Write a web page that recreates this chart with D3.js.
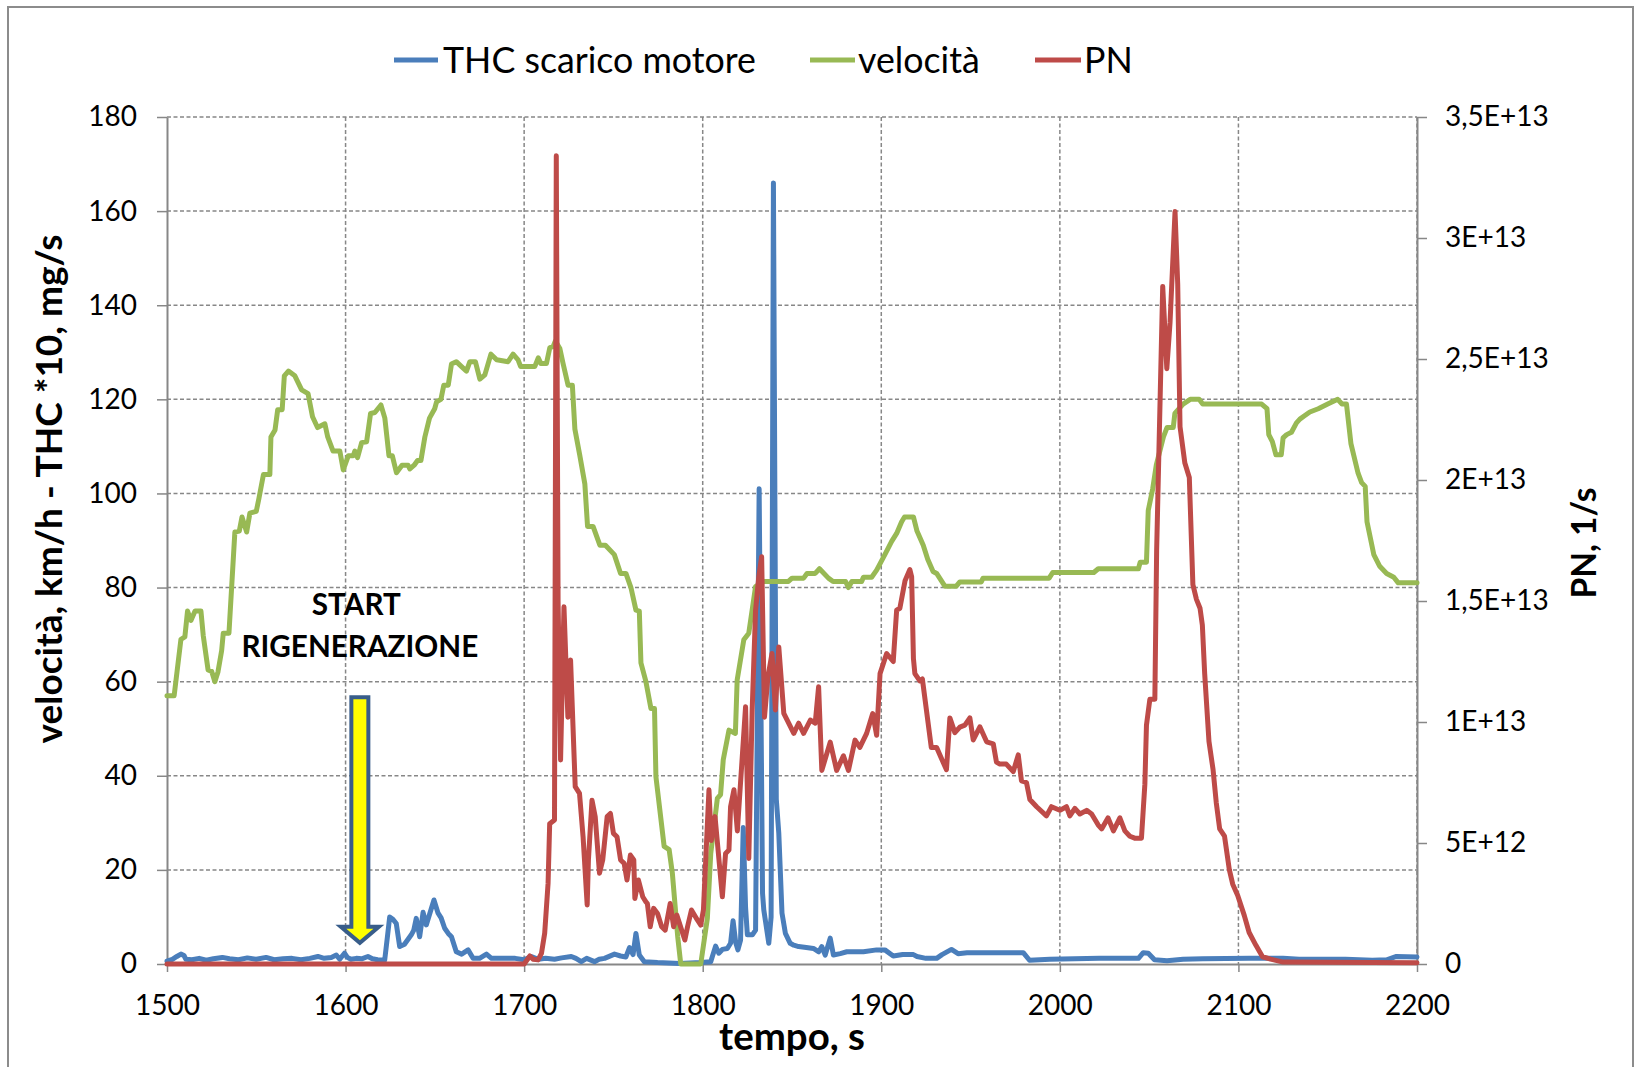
<!DOCTYPE html>
<html>
<head>
<meta charset="utf-8">
<script src="https://cdn.jsdelivr.net/npm/d3@7"></script>
<style>
  html, body { margin: 0; padding: 0; background: #fff; }
  svg { display: block; }
  text { font-family: Lato, "Open Sans", "DejaVu Sans", sans-serif; fill: #000; }
</style>
</head>
<body>
<svg id="chart" width="1635" height="1067"></svg>
<script>
// ---------------- DATA ----------------
const seriesNames = ["THC scarico motore", "velocità", "PN"];
const xTicks = [1500, 1600, 1700, 1800, 1900, 2000, 2100, 2200];
const leftTicks = [0, 20, 40, 60, 80, 100, 120, 140, 160, 180];
const pnTicks = [0, 0.5, 1, 1.5, 2, 2.5, 3, 3.5];            // x 1E+13
const pnTickLabels = ["0", "5E+12", "1E+13", "1,5E+13", "2E+13", "2,5E+13", "3E+13", "3,5E+13"];
const xTitle = "tempo, s";
const yLeftTitle = "velocità, km/h - THC *10, mg/s";
const yRightTitle = "PN, 1/s";
const annotationLines = ["START", "RIGENERAZIONE"];
const annotationTime = 1608;   // s, where the arrow points
const annotationTipValue = 4.5; // left-axis units
const annotationTopValue = 56.7;

// THC scarico motore [tempo s, value]
const thc = [[1500,0.6],[1503,1],[1505.5,1.6],[1507.8,2.1],[1509.5,1.8],[1510.6,1],[1514,0.9],[1518,1.2],[1522,0.8],[1526,1.1],[1531,1.4],[1535,1.1],[1540,0.9],[1545,1.3],[1550,1],[1555.5,1.4],[1560,0.9],[1565,1.1],[1570,1.2],[1575,0.9],[1580,1.2],[1584.5,1.6],[1588,1.2],[1592,1.4],[1594.8,1.9],[1596.7,1],[1599.4,2.3],[1601,1.4],[1603,1],[1606,1.2],[1609,1.1],[1612.5,1.6],[1615,1.1],[1618,0.9],[1621.9,0.8],[1623.5,6],[1624.7,10],[1626.5,9.5],[1628.4,8.6],[1630.3,3.7],[1633,4.2],[1636.8,6.2],[1638.2,7.2],[1639.6,9.7],[1641.5,5.8],[1643.4,11],[1645.2,8.3],[1647,10.5],[1649.5,13.6],[1651.8,10.8],[1653.5,9.8],[1655.5,7.6],[1657.5,6.5],[1659.3,5.8],[1662,2.6],[1665,2.1],[1668.6,3],[1671.4,1.2],[1675,1.2],[1678.9,2.1],[1681.7,1.2],[1687,1.2],[1695,1.2],[1700,0.9],[1704,1.6],[1708,1],[1712,1.2],[1717,1],[1721,1.3],[1726.4,1.6],[1729,1.2],[1732,0.5],[1735,1.2],[1739.4,0.5],[1742,1],[1745,1.2],[1750.6,2.1],[1754,1.7],[1757,1.5],[1759,3.5],[1761,2],[1762.6,6.5],[1764.5,1.9],[1767.3,0.5],[1774.7,0.3],[1787,0.1],[1798.9,0.3],[1804.5,0.5],[1807.2,3.8],[1809,2.3],[1811,3.1],[1813.8,3.3],[1815.6,4.4],[1817,9.2],[1818.5,4.5],[1819.7,3],[1821.2,5.1],[1822.7,29],[1824,12],[1825,6.2],[1827.8,6.2],[1829.6,7.2],[1831.6,101],[1833.5,15],[1834.2,11.5],[1837,4.4],[1838.3,10],[1839.6,166],[1841.2,35],[1842.6,27.8],[1844.4,10.8],[1846.3,6.5],[1849,4.4],[1851,4],[1853.7,3.7],[1858,3.5],[1862,3.3],[1865,2.6],[1866.7,3.7],[1868.6,1.9],[1871.4,5.5],[1873.2,1.9],[1877,2.2],[1880.7,2.6],[1890,2.6],[1897.4,3],[1902,3],[1906.7,1.7],[1912,2],[1918,2],[1920,1.6],[1925,1.2],[1931,1.2],[1934,2],[1939.3,3.1],[1943,2.2],[1948,2.4],[1979.5,2.4],[1983,0.8],[1994.4,1],[2022,1.2],[2044,1.2],[2046.7,2.4],[2049.5,2.3],[2053,0.9],[2060,0.7],[2069,1],[2080,1.1],[2106,1.2],[2125,1.2],[2134,1],[2160,1],[2175,0.8],[2183,0.9],[2188.5,1.6],[2200,1.5]];

// velocità [tempo s, km/h]
const velocita = [[1500,57],[1504,57],[1507.8,69],[1510,69.5],[1511.5,75],[1513.4,73],[1515.7,75],[1519,75],[1520.3,69.8],[1523,62.5],[1525,62.2],[1526.8,60],[1528.5,62],[1530.6,66.6],[1531.5,70.3],[1534.7,70.3],[1538,91.8],[1540.5,92],[1542,95],[1544.6,91.8],[1546.4,95.8],[1550,96.2],[1551.5,99],[1554,104],[1557.6,104],[1558.2,112],[1560.5,113.5],[1562,117.8],[1564.5,117.8],[1565.7,125],[1568,126],[1571.6,125],[1575.4,122],[1579,121.2],[1581.5,116.3],[1584.3,114],[1588.4,114.8],[1590,112],[1593,109],[1596.8,109],[1598.7,105],[1601.5,108],[1604.3,108],[1605.2,109],[1606.7,107.6],[1609,110.8],[1611.8,111],[1614,117],[1616.4,117.2],[1619.8,118.8],[1622,116],[1624.3,108],[1626.2,108],[1628.5,104.4],[1631.6,106],[1635,106],[1636,105.2],[1638.4,106],[1640.3,107],[1642.2,107],[1644.4,112],[1647,116],[1649.9,118],[1651,119.5],[1653.4,120],[1655,123],[1657.5,123],[1659.3,127.5],[1662,128],[1664.8,127],[1667.7,126],[1669.6,128],[1672.7,128],[1675.2,124.3],[1678,125.2],[1681.4,129.6],[1684.6,128.4],[1691,128],[1693.8,129.6],[1696.6,128.4],[1698,127],[1706,127],[1707.9,128.8],[1709.4,127.6],[1712.5,127.6],[1714.4,131],[1716.2,131.2],[1717.5,132.4],[1720,130.8],[1721.8,127.6],[1724.6,123],[1727,123],[1728.4,113.7],[1731.2,108],[1734,102],[1735.5,93],[1738.6,93],[1742.4,89],[1745.5,89],[1750.5,87],[1754,83],[1757,83],[1759.8,80],[1762.6,75.2],[1764.5,75],[1765.4,64],[1768.2,60],[1771,54.3],[1773,54.3],[1773.8,39.8],[1778.4,25],[1781.2,24.3],[1783,19.3],[1786,5.8],[1787.7,0],[1798.9,0],[1802.6,9.7],[1804.5,23.5],[1808.2,35.2],[1810,36],[1811.5,43.4],[1814.7,49.7],[1818.3,49],[1819.3,60.4],[1823,68.9],[1825.8,70.3],[1829.6,80.2],[1834,81.3],[1848,81.3],[1850,82],[1856.5,82],[1858.4,83],[1863,83],[1865.4,84],[1870.4,82],[1873,81.3],[1880,81.3],[1881.6,80],[1883.5,81.3],[1889,81.3],[1890,82.2],[1894.6,82.2],[1897.4,83.7],[1902,87],[1905.8,89.8],[1908.6,91.5],[1911.4,94],[1913,95],[1918,95],[1920,92],[1923.5,89],[1926,86],[1929,83.4],[1931,83],[1935.6,80.3],[1942,80.3],[1944,81.2],[1956,81.2],[1957,82],[1994,82],[1996,83.2],[2019,83.2],[2021.5,84],[2044,84],[2045,85.4],[2048.5,85.4],[2049.5,96.4],[2052,101],[2054,106],[2058,112],[2060,114],[2063.5,114],[2064.4,117],[2069,119],[2073,120],[2078,120],[2080,119],[2113,119],[2116,118],[2117,112.5],[2119,111],[2121,108.2],[2124,108.2],[2125,111.8],[2127,112.5],[2129.7,113],[2132.5,115],[2134.4,115.8],[2137,116.5],[2140,117.3],[2144.7,118],[2150,119],[2155.6,120],[2158,119],[2160.5,119],[2163,110.6],[2167,104.3],[2169,102.3],[2171,101.5],[2172,94],[2175.8,87],[2179,84.6],[2183,83],[2187,82.2],[2189.5,81],[2200,81]];

// PN [tempo s, 1/s in units of 1E+13]
const pn = [[1500,0],[1700,0],[1703.2,0.033],[1705,0.02],[1707.8,0.017],[1709.7,0.044],[1711.5,0.127],[1713.4,0.333],[1714.3,0.58],[1717,0.595],[1718,3.34],[1719,1.5],[1720.4,0.843],[1722.3,1.476],[1724.5,1.02],[1726,1.256],[1728.6,0.733],[1731,0.705],[1733,0.526],[1735.3,0.244],[1736,0.43],[1738,0.677],[1739.8,0.609],[1742.2,0.375],[1744,0.43],[1746.5,0.609],[1748.3,0.622],[1750,0.54],[1752,0.526],[1754,0.43],[1756,0.416],[1757.6,0.347],[1759.5,0.45],[1761.4,0.43],[1762,0.271],[1764,0.347],[1766.4,0.278],[1768.2,0.257],[1769,0.25],[1770.6,0.154],[1772.5,0.23],[1774.7,0.209],[1777,0.154],[1779,0.14],[1781.8,0.25],[1783.7,0.154],[1785.5,0.202],[1790,0.099],[1791.5,0.154],[1793.7,0.223],[1797,0.182],[1798.9,0.161],[1800.4,0.223],[1803.5,0.72],[1804.8,0.51],[1806.9,0.609],[1811,0.278],[1812.8,0.457],[1814.7,0.471],[1815.6,0.65],[1817.5,0.72],[1819.4,0.55],[1824,1.063],[1825.8,0.436],[1827.7,1.05],[1829.6,1.462],[1831.4,1.6],[1833,1.683],[1834.6,1.02],[1836.5,1.185],[1838.8,1.283],[1840.7,1.05],[1842.6,1.31],[1845.4,1.036],[1847.3,1.008],[1851,0.953],[1853.7,0.995],[1856.5,0.953],[1860.3,1.008],[1863,0.995],[1864.9,1.146],[1866.7,0.8],[1871.4,0.917],[1875,0.8],[1878.8,0.86],[1881.6,0.8],[1885.3,0.925],[1888,0.895],[1891.8,0.953],[1895.2,1.035],[1897.4,0.945],[1899.3,1.2],[1903,1.283],[1906.7,1.25],[1908.6,1.462],[1910.4,1.47],[1913.3,1.584],[1916,1.63],[1917,1.6],[1918,1.262],[1918.8,1.2],[1921.6,1.17],[1923,1.178],[1925.3,1.048],[1928,0.895],[1931,0.895],[1933.7,0.849],[1936.5,0.803],[1938.4,1.017],[1941.2,0.956],[1944,0.979],[1946.8,0.987],[1949.6,1.017],[1951.5,0.926],[1955.2,0.98],[1959,0.918],[1962.7,0.91],[1964.5,0.834],[1966.4,0.826],[1970,0.826],[1973.9,0.795],[1976.7,0.864],[1978.5,0.757],[1981.3,0.75],[1983.2,0.68],[1987,0.65],[1992.5,0.612],[1995.3,0.65],[2000,0.635],[2003.7,0.65],[2005.6,0.612],[2008.4,0.643],[2011.2,0.62],[2015,0.635],[2017.8,0.62],[2021.5,0.574],[2023.4,0.558],[2027,0.604],[2030,0.55],[2033.6,0.604],[2036.4,0.55],[2039.2,0.528],[2041.9,0.52],[2045.7,0.52],[2047.6,0.742],[2048.5,0.987],[2050.4,1.094],[2053.2,1.094],[2054.2,1.71],[2057.6,2.8],[2059.9,2.46],[2061.7,2.65],[2064.5,3.109],[2066,2.81],[2067.3,2.22],[2070,2.07],[2072.5,2.01],[2074.5,1.568],[2076.5,1.507],[2078.5,1.47],[2079.8,1.4],[2081.1,1.2],[2083.5,0.92],[2085.8,0.803],[2087.6,0.666],[2089.5,0.558],[2092.2,0.528],[2094.9,0.39],[2096.8,0.33],[2099.6,0.283],[2103.3,0.2],[2106,0.13],[2109.8,0.077],[2113.5,0.03],[2118,0.02],[2125,0.008],[2200,0.005]];

// ---------------- LAYOUT / STYLE ----------------
const W = 1635, H = 1067;
const plot = { left: 167, right: 1417, top: 117, bottom: 964 };
const colors = { thc: "#4A7EBB", vel: "#98B954", pn: "#BE4B48" };
const gridColor = "#878787";
const axisColor = "#878787";

const svg = d3.select("#chart");
svg.append("rect").attr("x", 0).attr("y", 0).attr("width", W).attr("height", H).attr("fill", "#fff");
svg.append("rect").attr("x", 8).attr("y", 7).attr("width", 1625).attr("height", 1075)
  .attr("fill", "none").attr("stroke", "#8c8c8c").attr("stroke-width", 2);

const x = d3.scaleLinear().domain([xTicks[0], xTicks[xTicks.length - 1]]).range([plot.left, plot.right]);
const yL = d3.scaleLinear().domain([0, 180]).range([plot.bottom, plot.top]);
const yR = d3.scaleLinear().domain([0, 3.5]).range([plot.bottom, plot.top]);

function fitFont(sel, target) {
  const w = sel.node().getComputedTextLength();
  const fs = parseFloat(sel.attr("font-size"));
  const nf = fs * target / w;
  sel.attr("font-size", nf);
  return nf;
}

// tick font size from a probe
const probe = svg.append("text").attr("font-size", 30).text("1500");
const tickFS = fitFont(probe, 65);
probe.remove();

// gridlines
const grid = svg.append("g");
grid.selectAll("line.h").data(leftTicks.filter(d => d > 0)).join("line")
  .attr("x1", plot.left).attr("x2", plot.right)
  .attr("y1", d => yL(d)).attr("y2", d => yL(d))
  .attr("stroke", gridColor).attr("stroke-width", 1.5).attr("stroke-dasharray", "4,2.5");
grid.selectAll("line.v").data(xTicks.filter(d => d > xTicks[0])).join("line")
  .attr("x1", d => x(d)).attr("x2", d => x(d))
  .attr("y1", plot.top).attr("y2", plot.bottom)
  .attr("stroke", gridColor).attr("stroke-width", 1.5).attr("stroke-dasharray", "4,2.5");

function styleAxis(g) {
  g.selectAll("path.domain").attr("stroke", axisColor).attr("stroke-width", 2);
  g.selectAll(".tick line").attr("stroke", axisColor).attr("stroke-width", 1.5);
  g.selectAll(".tick text").attr("font-family", "Lato, 'Open Sans', sans-serif")
    .attr("font-size", tickFS).attr("fill", "#000");
}

const gx = svg.append("g").attr("transform", `translate(0,${plot.bottom})`)
  .call(d3.axisBottom(x).tickValues(xTicks).tickFormat(d3.format("d")).tickSize(8).tickSizeOuter(0).tickPadding(23));
styleAxis(gx);

const gyl = svg.append("g").attr("transform", `translate(${plot.left},0)`)
  .call(d3.axisLeft(yL).tickValues(leftTicks).tickFormat(d3.format("d")).tickSize(10).tickSizeOuter(0).tickPadding(20));
styleAxis(gyl);

const gyr = svg.append("g").attr("transform", `translate(${plot.right},0)`)
  .call(d3.axisRight(yR).tickValues(pnTicks).tickFormat((d, i) => pnTickLabels[i]).tickSize(10).tickSizeOuter(0).tickPadding(18));
styleAxis(gyr);

// series
const lineL = d3.line().x(d => x(d[0])).y(d => yL(d[1]));
const lineR = d3.line().x(d => x(d[0])).y(d => yR(d[1]));
const series = svg.append("g").attr("fill", "none").attr("stroke-width", 5)
  .attr("stroke-linejoin", "round").attr("stroke-linecap", "round");
series.append("path").datum(thc).attr("d", lineL).attr("stroke", colors.thc);
series.append("path").datum(velocita).attr("d", lineL).attr("stroke", colors.vel);
series.append("path").datum(pn).attr("d", lineR).attr("stroke", colors.pn);

// legend
const legendItems = [
  { name: seriesNames[0], color: colors.thc, x1: 394, x2: 438, tx: 443 },
  { name: seriesNames[1], color: colors.vel, x1: 810, x2: 855, tx: 858 },
  { name: seriesNames[2], color: colors.pn, x1: 1035, x2: 1081, tx: 1084 }
];
const lg = svg.append("g");
const lt0 = lg.append("text").attr("font-size", 32).text(legendItems[0].name);
const legFS = fitFont(lt0, 313);
lt0.remove();
legendItems.forEach(it => {
  lg.append("line").attr("x1", it.x1).attr("x2", it.x2).attr("y1", 60).attr("y2", 60)
    .attr("stroke", it.color).attr("stroke-width", 5);
  lg.append("text").attr("x", it.tx).attr("y", 72.5).attr("font-size", legFS).text(it.name);
});

// axis titles
const tX = svg.append("text").attr("x", (plot.left + plot.right) / 2).attr("y", 1050)
  .attr("text-anchor", "middle").attr("font-weight", "bold").attr("font-size", 34).text(xTitle);
fitFont(tX, 146);
const tYL = svg.append("text").attr("transform", "translate(62,489) rotate(-90)")
  .attr("text-anchor", "middle").attr("font-weight", "bold").attr("font-size", 34).text(yLeftTitle);
fitFont(tYL, 509);
const tYR = svg.append("text").attr("transform", "translate(1596,543) rotate(-90)")
  .attr("text-anchor", "middle").attr("font-weight", "bold").attr("font-size", 34).text(yRightTitle);
fitFont(tYR, 111);

// annotation
const ann = svg.append("g");
const a1 = ann.append("text").attr("x", x(annotationTime)).attr("y", yL(65.2))
  .attr("text-anchor", "middle").attr("font-weight", "bold").attr("font-size", 32).text(annotationLines[1]);
const annFS = fitFont(a1, 237);
ann.append("text").attr("x", x(annotationTime - 2)).attr("y", yL(74.2))
  .attr("text-anchor", "middle").attr("font-weight", "bold").attr("font-size", annFS).text(annotationLines[0]);

const ax = x(annotationTime), tipY = yL(annotationTipValue), topY = yL(annotationTopValue);
const shaftHW = 8.5, headHW = 19, headH = 16;
const arrowPath = d3.path();
arrowPath.moveTo(ax - shaftHW, topY);
arrowPath.lineTo(ax + shaftHW, topY);
arrowPath.lineTo(ax + shaftHW, tipY - headH);
arrowPath.lineTo(ax + headHW, tipY - headH);
arrowPath.lineTo(ax, tipY);
arrowPath.lineTo(ax - headHW, tipY - headH);
arrowPath.lineTo(ax - shaftHW, tipY - headH);
arrowPath.closePath();
ann.append("path").attr("d", arrowPath.toString())
  .attr("fill", "#FFFF00").attr("stroke", "#385D8A").attr("stroke-width", 4).attr("stroke-linejoin", "miter");
</script>
</body>
</html>
